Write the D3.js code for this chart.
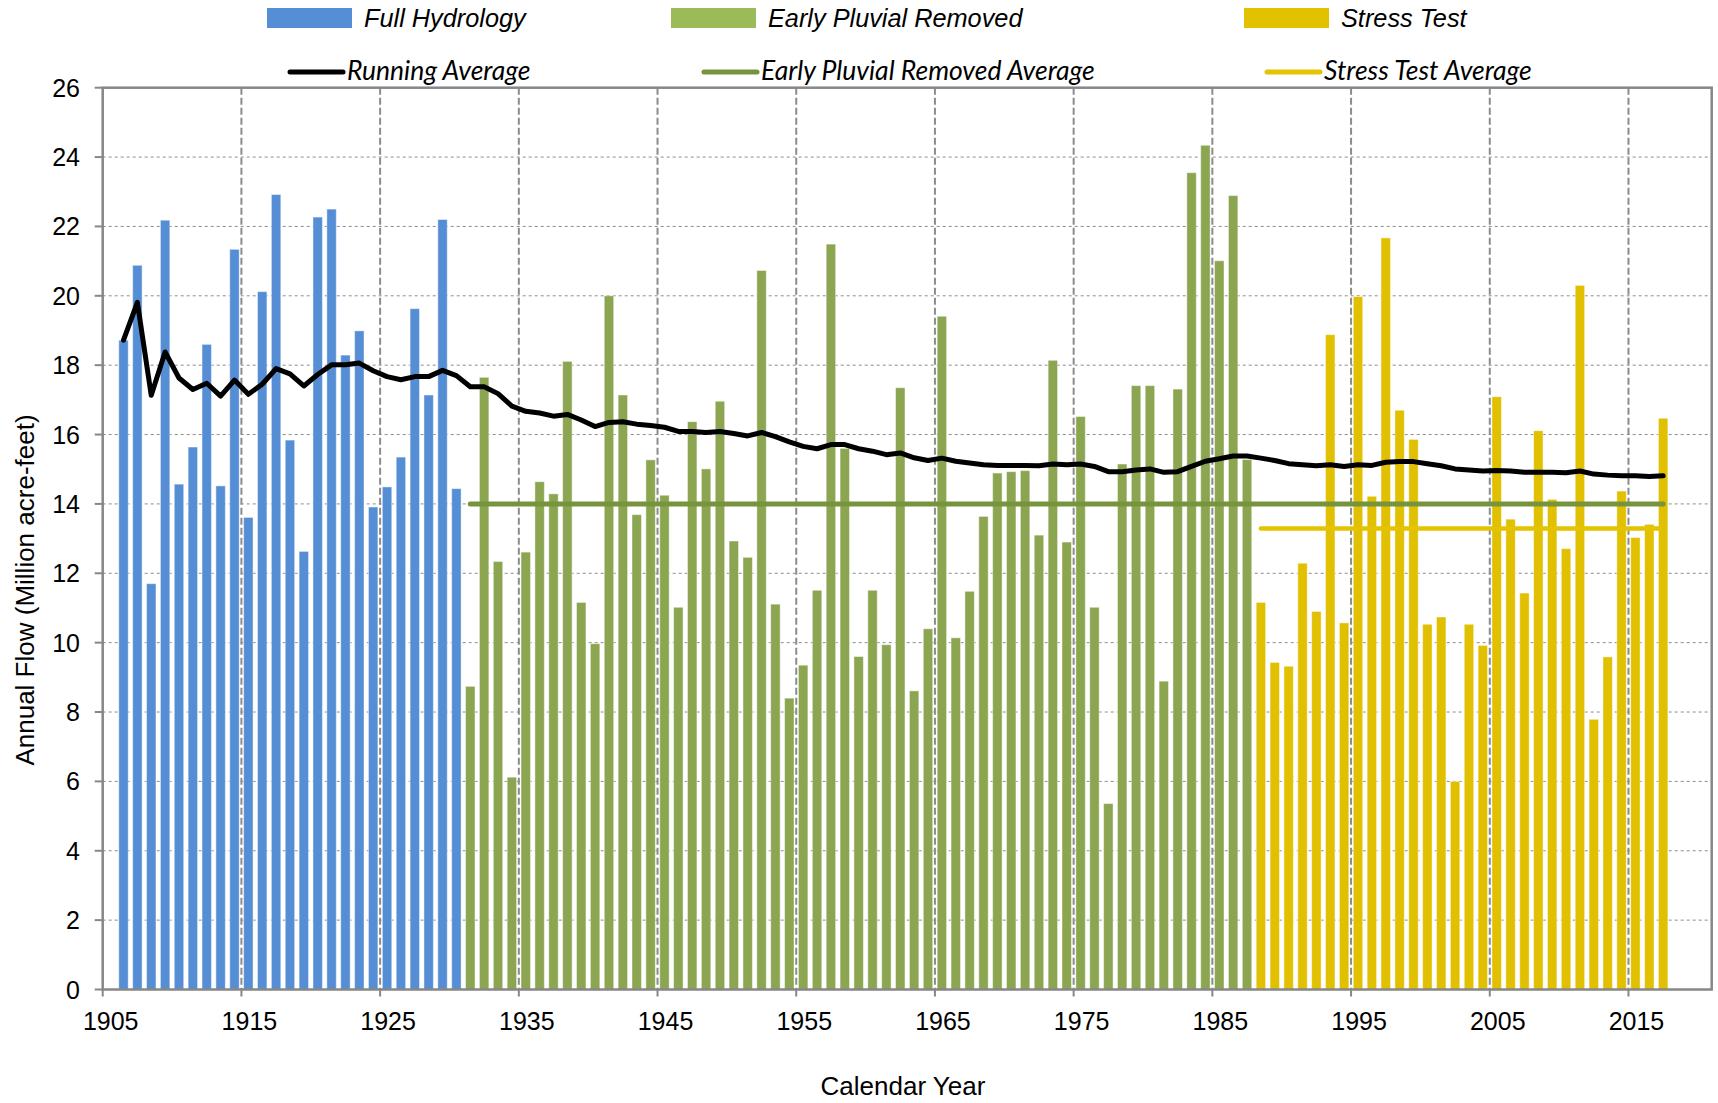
<!DOCTYPE html>
<html>
<head>
<meta charset="utf-8">
<script src="https://cdn.jsdelivr.net/npm/d3@7"></script>
<style>
  body { margin: 0; background: #fff; }
  svg { display: block; font-family: "Liberation Sans", Arial, sans-serif; }
  .tick-label { font-size: 25px; fill: #000; }
  .axis-title { font-size: 26px; fill: #000; }
  .legend-top { font-size: 25.3px; font-style: italic; fill: #000; }
  .legend-bottom { font-family: Lato, "Open Sans", sans-serif; font-size: 26.5px; font-style: italic; fill: #000; }
</style>
</head>
<body>
<svg id="chart" width="1718" height="1103"></svg>
<script>
// annual flow, million acre-feet
const fullHydrologyStart = 1906;
const fullHydrology = [
  18.72, 20.88, 11.70, 22.18, 14.57, 15.64, 18.60, 14.52, 21.34, 13.61,
  20.12, 22.92, 15.84, 12.63, 22.27, 22.50, 18.29, 18.99, 13.91, 14.49,
  15.35, 19.63, 17.14, 22.20, 14.44
];
const earlyPluvialStart = 1931;
const earlyPluvialRemoved = [
  8.74, 17.65, 12.34, 6.12, 12.61, 14.64, 14.29, 18.11, 11.16, 9.97,
  20.00, 17.14, 13.69, 15.27, 14.25, 11.02, 16.37, 15.01, 16.96, 12.93,
  12.46, 20.73, 11.11, 8.40, 9.35, 11.51, 21.49, 15.60, 9.60, 11.51,
  9.94, 17.35, 8.61, 10.40, 19.41, 10.14, 11.48, 13.64, 14.89, 14.93,
  14.96, 13.10, 18.14, 12.90, 16.52, 11.02, 5.36, 15.15, 17.41, 17.41,
  8.89, 17.31, 23.55, 24.34, 21.01, 22.89, 15.28
];
const stressTestStart = 1988;
const stressTest = [
  11.16, 9.43, 9.32, 12.29, 10.90, 18.88, 10.57, 19.98, 14.22, 21.67,
  16.70, 15.86, 10.53, 10.74, 6.00, 10.53, 9.92, 17.09, 13.56, 11.43,
  16.11, 14.13, 12.71, 20.30, 7.79, 9.59, 14.37, 13.03, 13.41, 16.47
];
const runningAverage = [
  18.72, 19.81, 17.13, 18.38, 17.63, 17.30, 17.48, 17.11, 17.57, 17.16,
  17.45, 17.90, 17.75, 17.40, 17.73, 18.01, 18.01, 18.06, 17.84, 17.67,
  17.58, 17.67, 17.67, 17.85, 17.70, 17.38, 17.38, 17.18, 16.82, 16.67,
  16.62, 16.53, 16.58, 16.42, 16.23, 16.35, 16.37, 16.30, 16.26, 16.21,
  16.09, 16.09, 16.06, 16.09, 16.03, 15.96, 16.06, 15.94, 15.79, 15.66,
  15.59, 15.71, 15.71, 15.59, 15.52, 15.42, 15.47, 15.33, 15.25, 15.32,
  15.23, 15.18, 15.13, 15.11, 15.11, 15.11, 15.10, 15.15, 15.13, 15.15,
  15.08, 14.93, 14.93, 14.98, 15.01, 14.91, 14.93, 15.08, 15.23, 15.30,
  15.38, 15.38, 15.32, 15.25, 15.16, 15.13, 15.10, 15.13, 15.08, 15.13,
  15.11, 15.20, 15.22, 15.22, 15.16, 15.10, 15.01, 14.98, 14.95, 14.96,
  14.95, 14.91, 14.91, 14.91, 14.90, 14.95, 14.86, 14.83, 14.81, 14.81,
  14.79, 14.81
];
const earlyPluvialAverage = 14.00;
const stressTestAverage = 13.29;

const yTicks = [0, 2, 4, 6, 8, 10, 12, 14, 16, 18, 20, 22, 24, 26];
const xTicks = [1905, 1915, 1925, 1935, 1945, 1955, 1965, 1975, 1985, 1995, 2005, 2015];

const COLORS = {
  full: "#558ed5",
  pluvial: "#8ba550",
  pluvialKey: "#9bbb59",
  pluvialAvg: "#77933c",
  stress: "#e0c000",
  stressKey: "#e2c200",
  stressAvg: "#e4c300"
};

const svg = d3.select("#chart");
const margin = { top: 87.7, right: 1711.7, bottom: 989.5, left: 102.7 };

const x = d3.scaleLinear().domain([1905, 2021]).range([margin.left, margin.right]);
const y = d3.scaleLinear().domain([0, 26]).range([margin.bottom, margin.top]);
const barW = (x(1906) - x(1905)) * 0.68;

svg.append("rect").attr("width", 1718).attr("height", 1103).attr("fill", "#fff");

// gridlines
svg.append("g").selectAll("line")
  .data(yTicks.filter(d => d > 0 && d < 26))
  .enter().append("line")
  .attr("x1", margin.left).attr("x2", margin.right)
  .attr("y1", d => y(d)).attr("y2", d => y(d))
  .attr("stroke", "#8c8c8c").attr("stroke-width", 1)
  .attr("stroke-dasharray", "3 3");

svg.append("g").selectAll("line")
  .data(xTicks.slice(1))
  .enter().append("line")
  .attr("x1", d => x(d)).attr("x2", d => x(d))
  .attr("y1", margin.top).attr("y2", margin.bottom)
  .attr("stroke", "#8c8c8c").attr("stroke-width", 2)
  .attr("stroke-dasharray", "7 3");

// bars
const bars = [
  { start: fullHydrologyStart, values: fullHydrology, color: COLORS.full },
  { start: earlyPluvialStart, values: earlyPluvialRemoved, color: COLORS.pluvial },
  { start: stressTestStart, values: stressTest, color: COLORS.stress }
].flatMap(s => s.values.map((v, i) => ({ year: s.start + i, value: v, color: s.color })));

svg.append("g").selectAll("rect")
  .data(bars)
  .enter().append("rect")
  .attr("x", d => x(d.year + 0.5) - barW / 2)
  .attr("width", barW)
  .attr("y", d => y(d.value))
  .attr("height", d => y(0) - y(d.value))
  .attr("fill", d => d.color)
  .attr("stroke", "rgba(255,255,255,0.45)")
  .attr("stroke-width", 1);

// averages
const pluvialEnd = stressTestStart + stressTest.length - 1;
svg.append("line")
  .attr("x1", x(earlyPluvialStart + 0.5)).attr("x2", x(pluvialEnd + 0.5))
  .attr("y1", y(earlyPluvialAverage)).attr("y2", y(earlyPluvialAverage))
  .attr("stroke", COLORS.pluvialAvg).attr("stroke-width", 5)
  .attr("stroke-linecap", "round");

svg.append("line")
  .attr("x1", x(stressTestStart + 0.5)).attr("x2", x(pluvialEnd + 0.3))
  .attr("y1", y(stressTestAverage)).attr("y2", y(stressTestAverage))
  .attr("stroke", COLORS.stressAvg).attr("stroke-width", 4.5)
  .attr("stroke-linecap", "round");

const line = d3.line()
  .x((d, i) => x(fullHydrologyStart + i + 0.5))
  .y(d => y(d));

svg.append("path")
  .datum(runningAverage)
  .attr("d", line)
  .attr("fill", "none")
  .attr("stroke", "#000")
  .attr("stroke-width", 5)
  .attr("stroke-linejoin", "round")
  .attr("stroke-linecap", "round");

// plot frame
svg.append("rect")
  .attr("x", margin.left).attr("y", margin.top)
  .attr("width", margin.right - margin.left)
  .attr("height", margin.bottom - margin.top)
  .attr("fill", "none")
  .attr("stroke", "#878787").attr("stroke-width", 2.5);

// y axis ticks + labels
const yAxis = svg.append("g");
yAxis.selectAll("line")
  .data(yTicks)
  .enter().append("line")
  .attr("x1", margin.left - 8).attr("x2", margin.left)
  .attr("y1", d => y(d)).attr("y2", d => y(d))
  .attr("stroke", "#878787").attr("stroke-width", 2);
yAxis.selectAll("text")
  .data(yTicks)
  .enter().append("text")
  .attr("class", "tick-label")
  .attr("x", 80)
  .attr("y", d => y(d))
  .attr("dy", "0.36em")
  .attr("text-anchor", "end")
  .text(d => d);

// x axis ticks + labels
const xAxis = svg.append("g");
xAxis.selectAll("line")
  .data(xTicks)
  .enter().append("line")
  .attr("x1", d => x(d)).attr("x2", d => x(d))
  .attr("y1", margin.bottom).attr("y2", margin.bottom + 7)
  .attr("stroke", "#878787").attr("stroke-width", 2);
xAxis.selectAll("text")
  .data(xTicks)
  .enter().append("text")
  .attr("class", "tick-label")
  .attr("x", d => x(d) + 8)
  .attr("y", 1030)
  .attr("text-anchor", "middle")
  .text(d => d);

svg.append("text")
  .attr("class", "axis-title")
  .attr("x", 903)
  .attr("y", 1095)
  .attr("text-anchor", "middle")
  .text("Calendar Year");

svg.append("text")
  .attr("class", "axis-title")
  .attr("transform", "translate(34,590) rotate(-90)")
  .attr("text-anchor", "middle")
  .text("Annual Flow (Million acre-feet)");

// legend
const keyBoxes = [
  { label: "Full Hydrology", color: COLORS.full, x: 267 },
  { label: "Early Pluvial Removed", color: COLORS.pluvialKey, x: 671 },
  { label: "Stress Test", color: COLORS.stressKey, x: 1244 }
];
const keyLines = [
  { label: "Running Average", color: "#000", x: 290 },
  { label: "Early Pluvial Removed Average", color: COLORS.pluvialAvg, x: 704 },
  { label: "Stress Test Average", color: COLORS.stressAvg, x: 1267 }
];

const legendTop = svg.append("g");
keyBoxes.forEach(k => {
  legendTop.append("rect")
    .attr("x", k.x).attr("y", 8)
    .attr("width", 85).attr("height", 20)
    .attr("fill", k.color);
  legendTop.append("text")
    .attr("class", "legend-top")
    .attr("x", k.x + 97).attr("y", 27)
    .text(k.label);
});

const legendBottom = svg.append("g");
keyLines.forEach(k => {
  legendBottom.append("line")
    .attr("x1", k.x).attr("x2", k.x + 53)
    .attr("y1", 72).attr("y2", 72)
    .attr("stroke", k.color).attr("stroke-width", 5)
    .attr("stroke-linecap", "round");
  legendBottom.append("text")
    .attr("class", "legend-bottom")
    .attr("x", k.x + 57).attr("y", 80)
    .text(k.label);
});
</script>
</body>
</html>
